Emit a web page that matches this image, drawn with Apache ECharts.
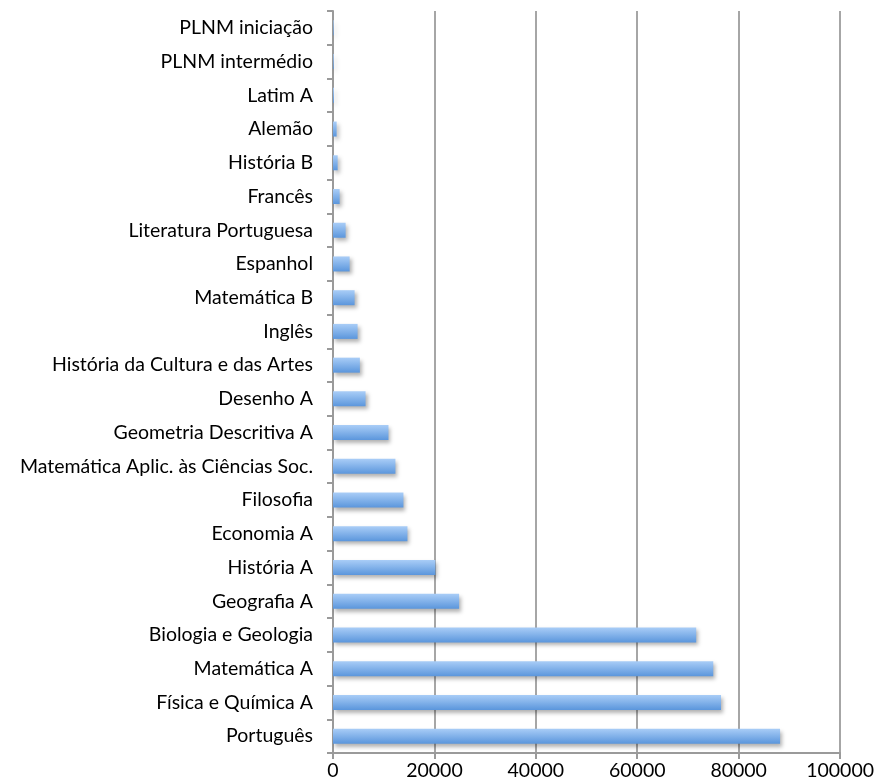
<!DOCTYPE html>
<html>
<head>
<meta charset="utf-8">
<script src="https://cdn.jsdelivr.net/npm/echarts@6/dist/echarts.min.js"></script>
<style>
html,body{margin:0;padding:0;background:#fff;}
#chart{width:877px;height:781px;}
</style>
</head>
<body>
<div id="chart"></div>
<script>
const categories = [
  "Português","Física e Química A","Matemática A","Biologia e Geologia","Geografia A",
  "História A","Economia A","Filosofia","Matemática Aplic. às Ciências Soc.","Geometria Descritiva A",
  "Desenho A","História da Cultura e das Artes","Inglês","Matemática B","Espanhol",
  "Literatura Portuguesa","Francês","História B","Alemão","Latim A",
  "PLNM intermédio","PLNM iniciação"
];
const values = [
  88170, 76520, 74990, 71630, 24870,
  20200, 14680, 13890, 12310, 10940,
  6420, 5300, 4850, 4260, 3280,
  2490, 1310, 920, 720, 180,
  140, 120
];
const xTicks = [0, 20000, 40000, 60000, 80000, 100000];

const chart = echarts.init(document.getElementById('chart'));
const font = 'Lato';
chart.setOption({
  animation: false,
  grid: {left: 333, right: 35, top: 11, bottom: 26, containLabel: false},
  xAxis: {
    type: 'value',
    min: xTicks[0],
    max: xTicks[xTicks.length - 1],
    interval: xTicks[1] - xTicks[0],
    axisLine: {show: true, lineStyle: {color: '#9a9a9a', width: 2}},
    axisTick: {show: true, length: 6, lineStyle: {color: '#9a9a9a', width: 2}},
    axisLabel: {color: '#000', fontFamily: font, fontSize: 19.5, margin: 8,
      formatter: function (v) { return String(v); }},
    splitLine: {show: true, lineStyle: {color: '#a6a6a6', width: 2}}
  },
  yAxis: {
    type: 'category',
    data: categories,
    axisLine: {show: true, lineStyle: {color: '#9a9a9a', width: 2}},
    axisTick: {show: true, length: 6, lineStyle: {color: '#9a9a9a', width: 2}},
    axisLabel: {color: '#000', fontFamily: font, fontSize: 19.5, margin: 20},
    splitLine: {show: false}
  },
  series: [{
    type: 'bar',
    data: values,
    barWidth: 15,
    itemStyle: {
      color: new echarts.graphic.LinearGradient(0, 0, 0, 1, [
        {offset: 0, color: '#a9cdf7'},
        {offset: 1, color: '#5b96dc'}
      ]),
      shadowColor: 'rgba(0,0,0,0.3)',
      shadowBlur: 4,
      shadowOffsetX: 2,
      shadowOffsetY: 3
    }
  }]
});
</script>
</body>
</html>
